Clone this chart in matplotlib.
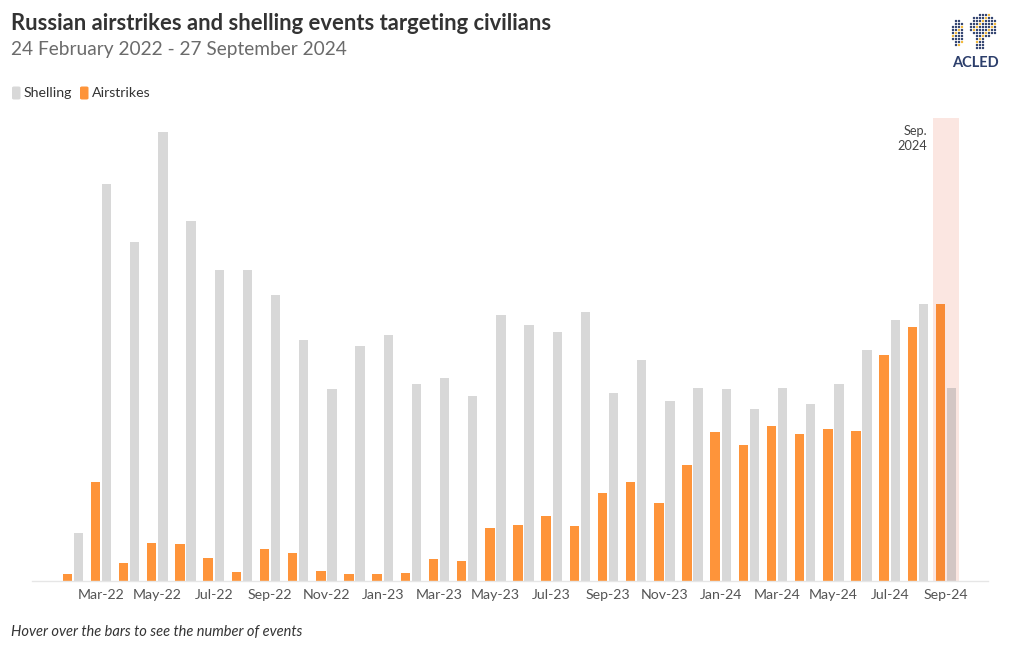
import matplotlib
matplotlib.use("Agg")
import matplotlib.pyplot as plt
import numpy as np
from matplotlib.patches import FancyBboxPatch

# ---------------- data ----------------
months = ["Feb-22", "Mar-22", "Apr-22", "May-22", "Jun-22", "Jul-22", "Aug-22", "Sep-22",
          "Oct-22", "Nov-22", "Dec-22",
          "Jan-23", "Feb-23", "Mar-23", "Apr-23", "May-23", "Jun-23", "Jul-23", "Aug-23",
          "Sep-23", "Oct-23", "Nov-23", "Dec-23",
          "Jan-24", "Feb-24", "Mar-24", "Apr-24", "May-24", "Jun-24", "Jul-24", "Aug-24",
          "Sep-24"]
airstrikes = [7, 99, 18, 38, 37, 23, 9, 32, 28, 10, 7,
              7, 8, 22, 20, 53, 56, 65, 55, 88, 99, 78, 116,
              149, 136, 155, 147, 152, 150, 226, 254, 277]
shelling = [48, 397, 339, 449, 360, 311, 311, 286, 241, 192, 235,
            246, 197, 203, 185, 266, 256, 249, 269, 188, 221, 180, 193,
            192, 172, 193, 177, 197, 231, 261, 277, 193]
tick_labels = ["Mar-22", "May-22", "Jul-22", "Sep-22", "Nov-22", "Jan-23", "Mar-23", "May-23",
               "Jul-23", "Sep-23", "Nov-23", "Jan-24", "Mar-24", "May-24", "Jul-24", "Sep-24"]
highlight_month = "Sep-24"
highlight_label = "Sep.\n2024"

title = "Russian airstrikes and shelling events targeting civilians"
subtitle = "24 February 2022 - 27 September 2024"
footer = "Hover over the bars to see the number of events"

# ---------------- style ----------------
FONT = "Lato"
GREY = "#d8d8d8"
ORANGE = "#fe943a"
W, H = 1020, 650
fig = plt.figure(figsize=(W / 100, H / 100), dpi=100)
fig.patch.set_facecolor("white")

ax_left, ax_right = 32, 988
ax_bottom, ax_top = 581, 118
ax = fig.add_axes([ax_left / W, (H - ax_bottom) / H,
                   (ax_right - ax_left) / W, (ax_bottom - ax_top) / H])

x = np.arange(len(months))
bw = 0.335
gap = 0.03
hi = months.index(highlight_month)

ax.axvspan(hi - 0.46, hi + 0.46, color="#fbe6e1", zorder=0, lw=0)

o_colors = [ORANGE] * len(months)
g_colors = [GREY] * len(months)
o_colors[hi] = "#f88b36"
g_colors[hi] = "#d3c6c4"
ax.bar(x - bw / 2 - gap, airstrikes, width=bw, color=o_colors, zorder=2, lw=0)
ax.bar(x + bw / 2 + gap, shelling, width=bw, color=g_colors, zorder=2, lw=0)

ax.set_xlim(-1.45, len(months) - 1 + 1.49)
ax.set_ylim(0, ax_bottom - ax_top)

for s in ["top", "right", "left"]:
    ax.spines[s].set_visible(False)
ax.spines["bottom"].set_color("#e6e6e6")
ax.spines["bottom"].set_linewidth(1)
ax.set_yticks([])
tick_pos = [months.index(t) for t in tick_labels]
ax.set_xticks(tick_pos)
ax.set_xticklabels(tick_labels, fontfamily=FONT, fontsize=10.2, color="#555555")
ax.tick_params(axis="x", length=0, pad=6)

ax.text(hi - 0.67, 456, highlight_label, ha="right", va="top", fontfamily=FONT,
        fontsize=9.2, color="#444444", linespacing=1.25)

# ---------------- texts ----------------
fig.text(11 / W, 1 - 24 / H, title, fontfamily=FONT, fontweight="bold", fontsize=15.8,
         color="#333333", va="center", ha="left")
fig.text(11 / W, 1 - 49 / H, subtitle, fontfamily=FONT, fontsize=13.8,
         color="#6b6b6b", va="center", ha="left")
fig.text(11 / W, 1 - 632 / H, footer, fontfamily=FONT, fontstyle="italic", fontsize=10.5,
         color="#333333", va="center", ha="left")

# legend
leg_y = 93
for (lx, col, lab) in [(12, GREY, "Shelling"), (80, ORANGE, "Airstrikes")]:
    fig.patches.append(FancyBboxPatch(((lx) / W, 1 - (leg_y + 6.5) / H), 8.5 / W, 13 / H,
                                      boxstyle="round,pad=0,rounding_size=0.002",
                                      transform=fig.transFigure, color=col, lw=0))
    fig.text((lx + 12) / W, 1 - leg_y / H, lab, fontfamily=FONT, fontsize=10.2,
             color="#333333", va="center", ha="left")

# ---------------- ACLED logo (decoration) ----------------
lax = fig.add_axes([948 / W, 1 - 56 / H, 54 / W, 44 / H])
lax.set_xlim(0, 54)
lax.set_ylim(0, 44)
lax.axis("off")
navy, gold = "#2c3e6b", "#f2b632"
pts_x, pts_y, pts_c = [], [], []
for i in range(0, 18):
    for j in range(0, 14):
        px, py = 2 + i * 3.0, 2 + j * 3.0
        inside_main = ((px - 36) / 14) ** 2 + ((py - 30) / 12) ** 2 < 1
        inside_africa = ((px - 32) / 6) ** 2 + ((py - 14) / 8) ** 2 < 1
        inside_amer = ((px - 10) / 6) ** 2 + ((py - 24) / 14) ** 2 < 1
        if inside_main or inside_africa or inside_amer:
            pts_x.append(px)
            pts_y.append(py)
            pts_c.append(gold if (i * 7 + j * 3) % 5 == 0 else navy)
lax.scatter(pts_x, pts_y, s=3, c=pts_c, lw=0)
fig.text(975 / W, 1 - 63 / H, "ACLED", fontfamily=FONT, fontweight="bold", fontsize=10.5,
         color=navy, ha="center", va="center")

fig.savefig("out.png", dpi=100, facecolor="white")
